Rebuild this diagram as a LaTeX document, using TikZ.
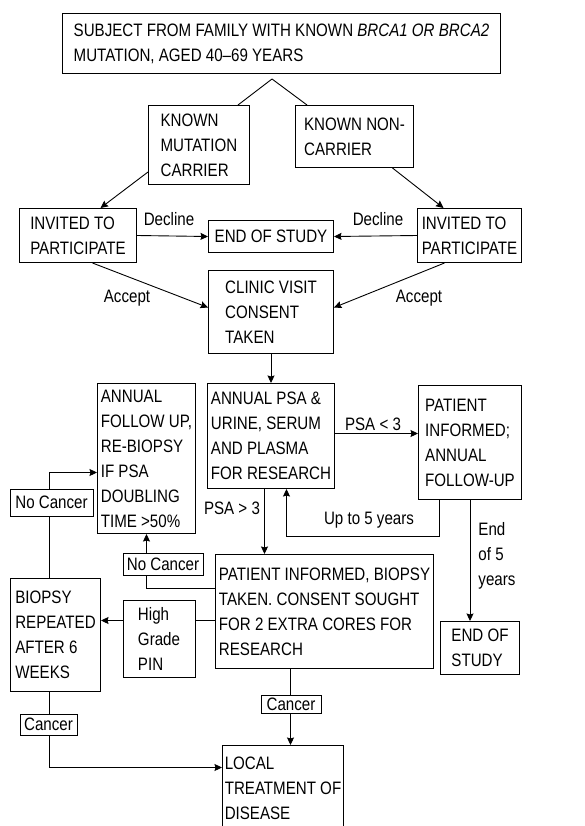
\documentclass[tikz,border=0pt]{standalone}
\usepackage{fontspec}
\setmainfont{Liberation Sans}[FakeStretch=0.84]
\usetikzlibrary{arrows.meta,positioning}

\begin{document}
\begin{tikzpicture}[
    x=1pt, y=-1pt,
    ->, >={Stealth[length=7.5pt, width=7pt, inset=1pt]}, line width=0.9pt,
    font=\fontsize{18}{25}\selectfont,
    box/.style={draw, rectangle, anchor=north west, align=left, inner sep=2pt, line width=1pt},
    tag/.style={draw, rectangle, fill=white, align=left, inner sep=1.5pt, line width=0.8pt},
    lbl/.style={inner sep=0pt, align=left}]

    \path[use as bounding box, fill=white] (0,0) rectangle (585,826);

    % Define boxes
    \node[box, minimum width=438, minimum height=60] (subject) at (62,13)
        {SUBJECT FROM FAMILY WITH KNOWN \textit{BRCA1 OR BRCA2}\\MUTATION, AGED 40--69 YEARS};
    \coordinate (split) at (272,79);
    \node[box, minimum width=101, minimum height=79] (carrier) at (148,105) {KNOWN\\MUTATION\\CARRIER};
    \node[box, minimum width=118, minimum height=62] (noncarrier) at (295,105) {KNOWN NON-\\CARRIER};
    \node[box, minimum width=117, minimum height=54] (inviteL) at (19,208) {INVITED TO\\PARTICIPATE};
    \node[box, minimum width=125, minimum height=32] (endA) at (208,220) {END OF STUDY};
    \node[box, minimum width=104, minimum height=54] (inviteR) at (417,208) {INVITED TO\\PARTICIPATE};
    \node[box, minimum width=125, minimum height=83] (clinic) at (208,270) {CLINIC VISIT\\CONSENT\\TAKEN};
    \node[box, minimum width=127, minimum height=105] (annual) at (207,383)
        {ANNUAL PSA \&\\URINE, SERUM\\AND PLASMA\\FOR RESEARCH};
    \node[box, minimum width=98, minimum height=150] (followup) at (97,383)
        {ANNUAL\\FOLLOW UP,\\RE-BIOPSY\\IF PSA\\DOUBLING\\TIME >50\%};
    \node[box, minimum width=103, minimum height=114] (informed) at (418,385)
        {PATIENT\\INFORMED;\\ANNUAL\\FOLLOW-UP};
    \node[box, minimum width=218, minimum height=114] (biopsy) at (215,554)
        {PATIENT INFORMED, BIOPSY\\TAKEN. CONSENT SOUGHT\\FOR 2 EXTRA CORES FOR\\RESEARCH};
    \node[box, minimum width=79, minimum height=53] (endB) at (440,621) {END OF\\STUDY};
    \node[box, minimum width=90, minimum height=113] (repeat) at (10,578) {BIOPSY\\REPEATED\\AFTER 6\\WEEKS};
    \node[box, minimum width=121, minimum height=85] (local) at (222,745) {LOCAL\\TREATMENT OF\\DISEASE};

    % Draw arrows
    \draw[-] (split) -- ([xshift=-12pt]carrier.north east);
    \draw[-] (split) -- ([xshift=12pt]noncarrier.north west);
    \draw ([yshift=-27pt]carrier.west) -- ([xshift=22.5pt]inviteL.north);
    \draw ([xshift=38pt]noncarrier.south) -- ([xshift=-26pt]inviteR.north);
    \draw (inviteL.east) -- (endA.west);
    \draw (inviteR.west) -- (endA.east);
    \draw ([xshift=14.5pt]inviteL.south) -- ([yshift=4.5pt]clinic.west);
    \draw ([xshift=-25pt]inviteR.south) -- ([yshift=4.5pt]clinic.east);
    \draw (clinic.south) -- (annual.north);
    \draw ([yshift=2.5pt]annual.east) -- ([yshift=2.5pt]annual.east -| informed.west);
    \draw ([xshift=-31pt]informed.south) -- ++(0,36) -| ([xshift=15.5pt]annual.south);
    \draw ([xshift=-6.5pt]annual.south) -- ([xshift=-6.5pt]annual.south |- biopsy.north);
    \draw (informed.south) -- (informed.south |- endB.north);
    \draw ([yshift=23pt]biopsy.west) -| (followup.south);
    \draw ([yshift=-9pt]biopsy.west) -- ([yshift=-9pt]biopsy.west -| repeat.east);
    \draw ([xshift=-6pt]repeat.north) |- ([yshift=-14pt]followup.west);
    \draw ([xshift=-34pt]biopsy.south) -- ([xshift=-34pt]biopsy.south |- local.north);
    \draw ([xshift=-6pt]repeat.south) |- ([yshift=20.5pt]local.west);

    % Labels
    \node[lbl] (declineL) at (169,219) {Decline};
    \node[lbl] (declineR) at (378,219) {Decline};
    \node[lbl] (acceptL) at (127,298) {Accept};
    \node[lbl] (acceptR) at (419,298) {Accept};
    \node[lbl] (below3) at (373,424) {PSA < 3};
    \node[lbl] (above3) at (232,508) {PSA > 3};
    \node[lbl] (upto) at (369,520) {Up to 5 years};
    \node[lbl, anchor=west] (endfive) at (478,556) {End\\of 5\\years};
    \node[tag, minimum width=83, minimum height=27] (nocancerA) at (51.5,502.5) {No Cancer};
    \node[tag, minimum width=80, minimum height=22] (nocancerB) at (163,564) {No Cancer};
    \node[tag, minimum width=72, minimum height=77] (pin) at (159,638.5) {High\\Grade\\PIN};
    \node[tag, minimum width=60, minimum height=18] (cancerA) at (291,704.5) {Cancer};
    \node[tag, minimum width=57, minimum height=21] (cancerB) at (48.5,724.5) {Cancer};
\end{tikzpicture}
\end{document}
